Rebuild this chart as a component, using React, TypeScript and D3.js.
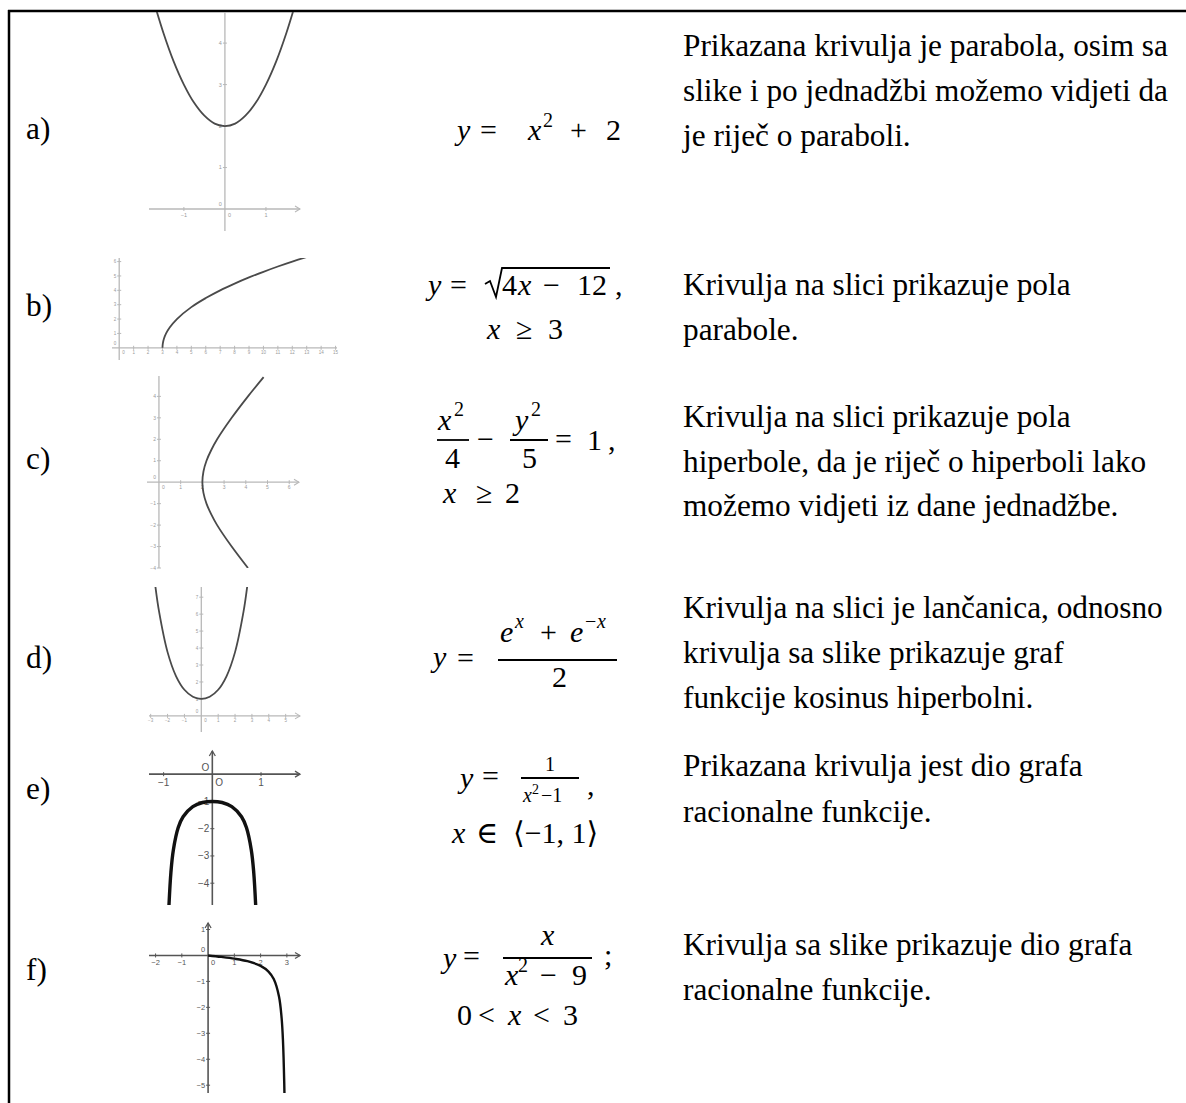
import React from "react";
import * as d3 from "d3";

const W = 1186, H = 1103;

const rowLabels = ["a)", "b)", "c)", "d)", "e)", "f)"];

const descriptions = [
  ["Prikazana krivulja je parabola, osim sa", "slike i po jednadžbi možemo vidjeti da", "je riječ o paraboli."],
  ["Krivulja na slici prikazuje pola", "parabole."],
  ["Krivulja na slici prikazuje pola", "hiperbole, da je riječ o hiperboli lako", "možemo vidjeti iz dane jednadžbe."],
  ["Krivulja na slici je lančanica, odnosno", "krivulja sa slike prikazuje graf", "funkcije kosinus hiperbolni."],
  ["Prikazana krivulja jest dio grafa", "racionalne funkcije."],
  ["Krivulja sa slike prikazuje dio grafa", "racionalne funkcije."],
];

// points, [x, y]
const parabolaPts: [number, number][] = [
  [-1.75, 5.06], [-1.5, 4.25], [-1.25, 3.56], [-1, 3], [-0.75, 2.56], [-0.5, 2.25], [-0.25, 2.06], [0, 2],
  [0.25, 2.06], [0.5, 2.25], [0.75, 2.56], [1, 3], [1.25, 3.56], [1.5, 4.25], [1.75, 5.06],
];
const sqrtPts: [number, number][] = [
  [3, 0], [3.02, 0.28], [3.1, 0.63], [3.25, 1], [3.5, 1.41], [4, 2], [5, 2.83], [6, 3.46], [7, 4],
  [8, 4.47], [9, 4.9], [10, 5.29], [11, 5.66], [12, 6], [13, 6.32],
];
const hyperbolaPts: [number, number][] = [
  [4.1, -4], [3.35, -3], [2.68, -2], [2.41, -1.5], [2.19, -1], [2.05, -0.5], [2, 0], [2.05, 0.5],
  [2.19, 1], [2.41, 1.5], [2.68, 2], [3.35, 3], [4.1, 4], [4.82, 4.9],
];
const catenaryPts: [number, number][] = [
  [-2.72, 7.62], [-2.5, 6.13], [-2, 3.76], [-1.5, 2.35], [-1, 1.54], [-0.5, 1.13], [0, 1],
  [0.5, 1.13], [1, 1.54], [1.5, 2.35], [2, 3.76], [2.5, 6.13], [2.72, 7.62],
];
const rationalPts: [number, number][] = [
  [-0.89, -4.81], [-0.85, -3.6], [-0.8, -2.78], [-0.7, -1.96], [-0.6, -1.56], [-0.4, -1.19], [-0.2, -1.04], [0, -1],
  [0.2, -1.04], [0.4, -1.19], [0.6, -1.56], [0.7, -1.96], [0.8, -2.78], [0.85, -3.6], [0.89, -4.81],
];
const rational2Pts: [number, number][] = [
  [0, 0], [0.5, -0.057], [1, -0.125], [1.5, -0.222], [2, -0.4], [2.3, -0.62], [2.5, -0.909],
  [2.7, -1.58], [2.8, -2.41], [2.85, -3.25], [2.9, -4.92], [2.92, -6.17],
];

const ticksAx = [-1, 1];
const ticksAy = [1, 2, 3, 4];
const ticksBx = [1, 2, 3, 4, 5, 6, 7, 8, 9, 10, 11, 12, 13, 14, 15];
const ticksBy = [1, 2, 3, 4, 5, 6];
const ticksCx = [1, 2, 3, 4, 5, 6];
const ticksCy = [-4, -3, -2, -1, 1, 2, 3, 4];
const ticksDx = [-3, -2, -1, 1, 2, 3, 4, 5];
const ticksDy = [1, 2, 3, 4, 5, 6, 7];
const ticksEx = [-1, 1];
const ticksEy = [-1, -2, -3, -4];
const ticksFx = [-2, -1, 1, 2, 3];
const ticksFy = [1, -1, -2, -3, -4, -5];

type Panel = {
  pts: [number, number][];
  xDom: [number, number]; xRange: [number, number];
  yDom: [number, number]; yRange: [number, number];
  xTicks: number[]; yTicks: number[];
  arrowX: boolean; arrowY: boolean; bold: boolean; lab: number;
};

const panels: Panel[] = [
  { pts: parabolaPts, xDom: [-1.85, 1.83], xRange: [149, 300], yDom: [-0.53, 4.75], yRange: [231, 12], xTicks: ticksAx, yTicks: ticksAy, arrowX: true, arrowY: false, bold: false, lab: 5.5 },
  { pts: sqrtPts, xDom: [-0.5, 15.1], xRange: [112, 337], yDom: [-0.85, 6.25], yRange: [360, 258], xTicks: ticksBx, yTicks: ticksBy, arrowX: false, arrowY: false, bold: false, lab: 4.5 },
  { pts: hyperbolaPts, xDom: [-0.55, 6.45], xRange: [147, 299], yDom: [-4, 4.95], yRange: [568, 376], xTicks: ticksCx, yTicks: ticksCy, arrowX: true, arrowY: false, bold: false, lab: 5 },
  { pts: catenaryPts, xDom: [-3.1, 5.85], xRange: [149, 300], yDom: [-0.95, 7.6], yRange: [732, 587], xTicks: ticksDx, yTicks: ticksDy, arrowX: true, arrowY: false, bold: false, lab: 4.5 },
  { pts: rationalPts, xDom: [-1.3, 1.8], xRange: [149, 300], yDom: [-4.8, 0.85], yRange: [905, 751], xTicks: ticksEx, yTicks: ticksEy, arrowX: true, arrowY: true, bold: true, lab: 10 },
  { pts: rational2Pts, xDom: [-2.25, 3.5], xRange: [149, 300], yDom: [-5.3, 1.25], yRange: [1093, 923], xTicks: ticksFx, yTicks: ticksFy, arrowX: true, arrowY: true, bold: true, lab: 7.5 },
];

const fmt = (v: number) => (v < 0 ? "\u2212" + Math.abs(v) : String(v));

function Plot({ p, i }: { p: Panel; i: number }) {
  const x = d3.scaleLinear().domain(p.xDom).range(p.xRange);
  const y = d3.scaleLinear().domain(p.yDom).range(p.yRange);
  const line = d3.line<[number, number]>()
    .x(d => x(d[0]))
    .y(d => y(d[1]))
    .curve(d3.curveCatmullRom.alpha(0.5));
  const x0 = x(0), y0 = y(0);
  const [xa, xb] = p.xRange;
  const [yb, ya] = p.yRange;
  const axisCol = p.bold ? "#555" : "#b8b8b8";
  const axisW = p.bold ? 1.6 : 1.3;
  const labCol = p.bold ? "#555" : "#9a9a9a";
  const curveCol = p.bold ? "#111" : "#4a4a4a";
  const curveW = i === 4 ? 3.4 : p.bold ? 2.4 : 1.8;
  const id = `clip${i}`;
  return (
    <g fontFamily="'Liberation Sans', Arial, sans-serif">
      <defs>
        <clipPath id={id}>
          <rect x={xa - 10} y={ya} width={xb - xa + 20} height={yb - ya} />
        </clipPath>
      </defs>
      <line x1={xa} x2={xb} y1={y0} y2={y0} stroke={axisCol} strokeWidth={axisW} />
      <line x1={x0} x2={x0} y1={yb} y2={ya} stroke={axisCol} strokeWidth={axisW} />
      {p.arrowX && (
        <polyline points={`${xb - 5},${y0 - 3} ${xb},${y0} ${xb - 5},${y0 + 3}`} fill="none" stroke={axisCol} strokeWidth={axisW * 0.8} />
      )}
      {p.arrowY && (
        <polyline points={`${x0 - 3},${ya + 5} ${x0},${ya} ${x0 + 3},${ya + 5}`} fill="none" stroke={axisCol} strokeWidth={axisW * 0.8} />
      )}
      {p.xTicks.map(t => (
        <g key={"x" + t}>
          <line x1={x(t)} x2={x(t)} y1={y0 - 2} y2={y0 + 2} stroke={axisCol} strokeWidth={1} />
          <text x={x(t)} y={y0 + p.lab + 2} fontSize={p.lab} fill={labCol} textAnchor="middle">{fmt(t)}</text>
        </g>
      ))}
      {p.yTicks.map(t => (
        <g key={"y" + t}>
          <line x1={x0 - 2} x2={x0 + 2} y1={y(t)} y2={y(t)} stroke={axisCol} strokeWidth={1} />
          <text x={x0 - 3} y={y(t) + p.lab * 0.35} fontSize={p.lab} fill={labCol} textAnchor="end">{fmt(t)}</text>
        </g>
      ))}
      <text x={x0 - 3} y={y0 - 3} fontSize={p.lab} fill={labCol} textAnchor="end">{i === 4 ? "O" : "0"}</text>
      <text x={x0 + 3} y={y0 + p.lab + 2} fontSize={p.lab} fill={labCol} textAnchor="start">{i === 4 ? "O" : "0"}</text>
      <path d={line(p.pts) || ""} fill="none" stroke={curveCol} strokeWidth={curveW} clipPath={`url(#${id})`} />
    </g>
  );
}

const V = ({ children, x, y, s = 30 }: any) => (
  <text x={x} y={y} fontSize={s} fontStyle="italic">{children}</text>
);
const T = ({ children, x, y, s = 30 }: any) => (
  <text x={x} y={y} fontSize={s}>{children}</text>
);
const Bar = ({ x1, x2, y }: any) => <line x1={x1} x2={x2} y1={y} y2={y} stroke="#000" strokeWidth={1.8} />;

function Formulas() {
  return (
    <g fontFamily="'Liberation Serif', 'Times New Roman', 'DejaVu Serif', serif" fill="#000">
      {/* a */}
      <V x={457} y={140}>y</V><T x={480} y={140}>=</T><V x={528} y={140}>x</V>
      <T x={543} y={127} s={20}>2</T><T x={570} y={140}>+</T><T x={606} y={140}>2</T>
      {/* b */}
      <V x={428} y={295}>y</V><T x={450} y={295}>=</T>
      <path d="M485,284 L490,281 L496,297 L502,268 L610,268" fill="none" stroke="#000" strokeWidth={1.8} />
      <T x={502} y={295}>4</T><V x={518} y={295}>x</V><T x={543} y={295}>−</T><T x={577} y={295}>12</T>
      <T x={615} y={295}>,</T>
      <V x={487} y={339}>x</V><T x={516} y={339}>≥</T><T x={548} y={339}>3</T>
      {/* c */}
      <V x={438} y={430}>x</V><T x={454} y={416} s={20}>2</T><Bar x1={437} x2={469} y={440} />
      <T x={445} y={468}>4</T>
      <T x={477} y={449}>−</T>
      <V x={515} y={430}>y</V><T x={531} y={416} s={20}>2</T><Bar x1={510} x2={548} y={440} />
      <T x={522} y={468}>5</T>
      <T x={555} y={449}>=</T><T x={587} y={450}>1</T><T x={608} y={450}>,</T>
      <V x={443} y={503}>x</V><T x={476} y={503}>≥</T><T x={505} y={503}>2</T>
      {/* d */}
      <V x={433} y={667}>y</V><T x={457} y={668}>=</T><Bar x1={498} x2={617} y={660} />
      <V x={500} y={642}>e</V><V x={515} y={628} s={20}>x</V><T x={540} y={642}>+</T>
      <V x={570} y={642}>e</V><T x={585} y={628} s={20}>−</T><V x={597} y={628} s={20}>x</V>
      <T x={552} y={687}>2</T>
      {/* e */}
      <V x={460} y={788}>y</V><T x={482} y={786}>=</T><Bar x1={521} x2={579} y={778} />
      <T x={545} y={771} s={20}>1</T>
      <V x={523} y={802} s={20}>x</V><T x={532} y={794} s={14}>2</T><T x={541} y={802} s={20}>−1</T>
      <T x={587} y={795}>,</T>
      <V x={452} y={843}>x</V><T x={476} y={843}>∈</T><T x={513} y={843}>⟨−1, 1⟩</T>
      {/* f */}
      <V x={443} y={968}>y</V><T x={463} y={966}>=</T><Bar x1={503} x2={592} y={958} />
      <V x={541} y={945}>x</V>
      <V x={505} y={985}>x</V><T x={518} y={972} s={20}>2</T><T x={540} y={985}>−</T><T x={572} y={985}>9</T>
      <T x={604} y={965}>;</T>
      <T x={457} y={1025}>0</T><T x={478} y={1025}>&lt;</T><V x={508} y={1025}>x</V><T x={533} y={1025}>&lt;</T><T x={563} y={1025}>3</T>
    </g>
  );
}

const labelBase = [139, 316, 469, 668, 799, 980];
const textBase = [[56, 101, 146], [295, 340], [427, 472, 516], [618, 663, 708], [776, 822], [955, 1000]];

export default function App() {
  return (
    <div style={{ position: "absolute", left: 0, top: 0 }}>
      <svg width={W} height={H} style={{ display: "block", background: "#fff" }}>
        <line x1={8} x2={W} y1={11} y2={11} stroke="#000" strokeWidth={2.5} />
        <line x1={9} x2={9} y1={10} y2={H} stroke="#000" strokeWidth={2.5} />
        {panels.map((p, i) => <Plot key={i} p={p} i={i} />)}
        <Formulas />
        <g fontFamily="'Liberation Serif', 'Times New Roman', serif" fontSize={31.3} fill="#000">
          {rowLabels.map((l, i) => (
            <text key={l} x={26} y={labelBase[i]}>{l}</text>
          ))}
          {descriptions.map((lines, i) =>
            lines.map((s, j) => (
              <text key={i + "-" + j} x={683} y={textBase[i][j]}>{s}</text>
            ))
          )}
        </g>
      </svg>
    </div>
  );
}
